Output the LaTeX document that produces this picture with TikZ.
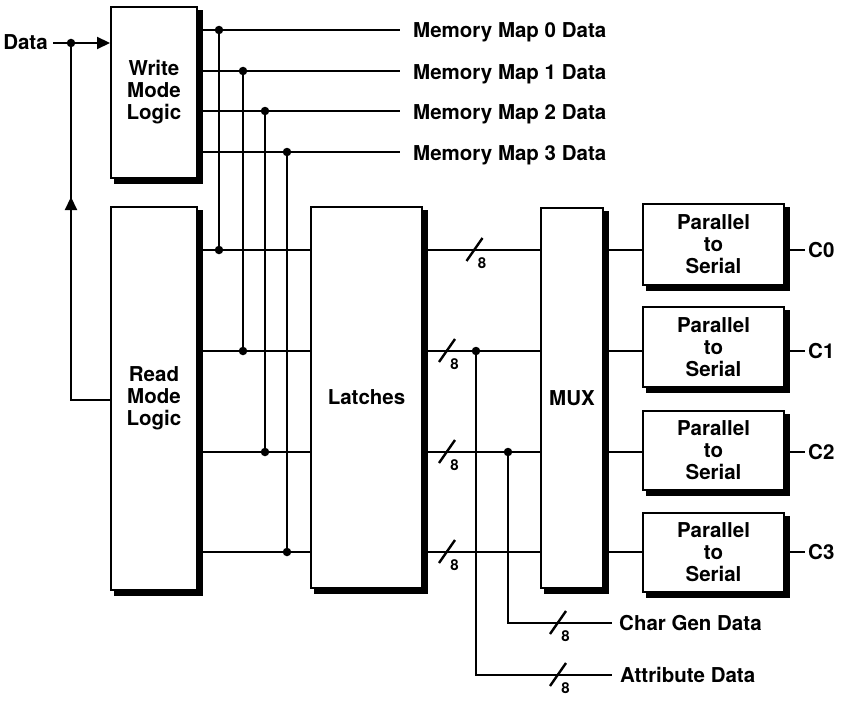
\documentclass[tikz,border=0pt]{standalone}
\usepackage{fontspec}
\setmainfont{TeX Gyre Heros}
\usetikzlibrary{arrows.meta,calc}
\begin{document}
\begin{tikzpicture}[x=1pt,y=-1pt,
  wire/.style={line width=2.2pt},
  blk/.style={draw,line width=2pt,fill=white,inner sep=0pt,align=center,
    font=\bfseries\fontsize{20.5}{22}\selectfont},
  lbl/.style={font=\bfseries\fontsize{20.5}{22}\selectfont,inner ysep=0pt,
    text height=14pt,text depth=0pt},
  dot/.style={circle,fill,inner sep=0pt,minimum size=8.5pt},
  tip/.style={-{Triangle[length=13pt,width=12pt]}},
  pics/busmark/.style={code={
    \draw[line width=2.4pt] (-8,11) -- (8,-12);
    \node[font=\bfseries\fontsize{15}{16}\selectfont,inner sep=0pt] at (7.5,13.5) {8};}}
]
\useasboundingbox (0,0) rectangle (846,701);

% levels
\coordinate (w0) at (0,30);  \coordinate (w1) at (0,71);
\coordinate (w2) at (0,111); \coordinate (w3) at (0,152);
\coordinate (r0) at (0,250); \coordinate (r1) at (0,351);
\coordinate (r2) at (0,452); \coordinate (r3) at (0,552);
\coordinate (vx0) at (219,0); \coordinate (vx1) at (243,0);
\coordinate (vx2) at (265,0); \coordinate (vx3) at (287,0);

% blocks
\node[blk,minimum width=86pt,minimum height=171pt] (wml) at (154,92.5) {Write\\Mode\\Logic};
\node[blk,minimum width=86pt,minimum height=383pt] (rml) at (154,398.5) {Read\\Mode\\Logic};
\node[blk,minimum width=111pt,minimum height=381pt] (lat) at (366.5,397.5) {Latches};
\node[blk,minimum width=62pt,minimum height=380pt] (mux) at (572,398) {MUX};
\node[blk,minimum width=141pt,minimum height=81pt] (ps0) at (713.5,244.5) {Parallel\\to\\Serial};
\node[blk,minimum width=141pt,minimum height=80pt] (ps1) at (713.5,347) {Parallel\\to\\Serial};
\node[blk,minimum width=141pt,minimum height=79pt] (ps2) at (713.5,450.5) {Parallel\\to\\Serial};
\node[blk,minimum width=141pt,minimum height=79pt] (ps3) at (713.5,552.5) {Parallel\\to\\Serial};

\foreach \n in {wml,rml,lat,mux,ps0,ps1,ps2,ps3}{
  \fill ([xshift=-1pt,yshift=-4pt]\n.north east) rectangle ([xshift=4.5pt,yshift=-4.5pt]\n.south east);
  \fill ([xshift=4pt,yshift=1pt]\n.south west) rectangle ([xshift=4.5pt,yshift=-4.5pt]\n.south east);
}

% labels
\node[lbl,anchor=east,inner xsep=5pt] (dat) at (53,43) {Data};
\node[lbl,anchor=west,inner xsep=13pt] (mm0) at (400,31) {Memory Map 0 Data};
\node[lbl,anchor=west,inner xsep=13pt] (mm1) at (400,72) {Memory Map 1 Data};
\node[lbl,anchor=west,inner xsep=13pt] (mm2) at (400,112) {Memory Map 2 Data};
\node[lbl,anchor=west,inner xsep=13pt] (mm3) at (400,153) {Memory Map 3 Data};
\node[lbl,anchor=west,inner xsep=3pt] (c0) at (805,250) {C0};
\node[lbl,anchor=west,inner xsep=3pt] (c1) at (805,351) {C1};
\node[lbl,anchor=west,inner xsep=3pt] (c2) at (805,452) {C2};
\node[lbl,anchor=west,inner xsep=3pt] (c3) at (805,552) {C3};
\node[lbl,anchor=west,inner xsep=7pt] (cg) at (612,623) {Char Gen Data};
\node[lbl,anchor=west,inner xsep=8pt] (attr) at (612,675) {Attribute Data};

% data input and feedback
\coordinate (dj) at (71,43);
\coordinate (fb) at (71,400);
\coordinate (ft) at (71,197);
\draw[wire,tip] (dat.east) -- (wml.west |- dat.east);
\draw[wire] (rml.west |- fb) -- (fb) -- (dj);
\draw[wire,tip] (fb) -- (ft);
\node[dot] at (dj) {};

% write outputs, verticals, read outputs
\foreach \i in {0,1,2,3}{
  \draw[wire] (wml.east |- w\i) -- (mm\i.west |- w\i);
  \draw[wire] (vx\i |- w\i) -- (vx\i |- r\i);
  \node[dot] at (vx\i |- w\i) {};
  \node[dot] at (vx\i |- r\i) {};
  \draw[wire] (rml.east |- r\i) -- (lat.west |- r\i);
  \draw[wire] (lat.east |- r\i) -- (mux.west |- r\i);
  \draw[wire] (mux.east |- r\i) -- (ps\i.west |- r\i);
  \draw[wire] (ps\i.east |- r\i) -- (c\i.west);
}

% bus marks on latch outputs
\pic at (474.5,250) {busmark};
\pic at (447,351) {busmark};
\pic at (447,452) {busmark};
\pic at (447,552) {busmark};

% attribute and char gen taps
\coordinate (ja) at (476,351);
\coordinate (jc) at (508,452);
\draw[wire] (ja) -- (ja |- attr.west) -- (attr.west);
\draw[wire] (jc) -- (jc |- cg.west) -- (cg.west);
\node[dot] at (ja) {};
\node[dot] at (jc) {};
\pic at (558,675) {busmark};
\pic at (558,623) {busmark};

\end{tikzpicture}
\end{document}
